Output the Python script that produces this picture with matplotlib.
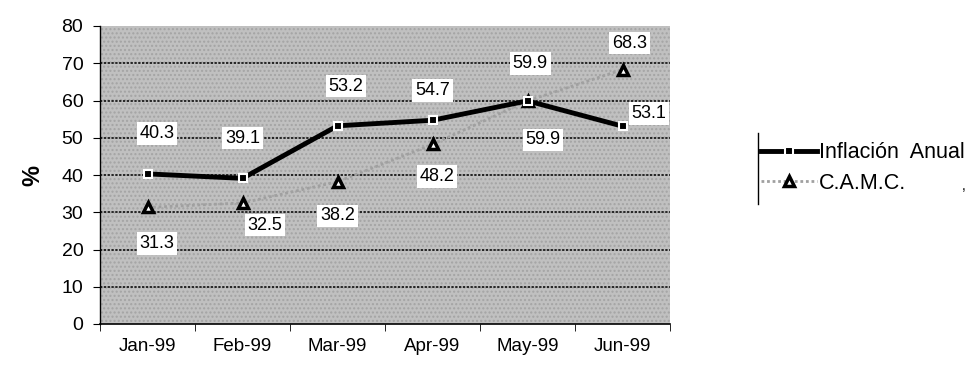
import matplotlib
matplotlib.use("Agg")
import matplotlib.pyplot as plt
from matplotlib.lines import Line2D
import numpy as np

plt.rcParams['font.family'] = ['Liberation Sans', 'DejaVu Sans']

months = ['Jan-99', 'Feb-99', 'Mar-99', 'Apr-99', 'May-99', 'Jun-99']
inflacion = [40.3, 39.1, 53.2, 54.7, 59.9, 53.1]
camc = [31.3, 32.5, 38.2, 48.2, 59.9, 68.3]

# label offsets (points) for the data labels
infl_off = [(7, 29), (0, 29), (6, 28.5), (0, 21.5), (2, 27), (19, 9)]
camc_off = [(7, -26), (16, -16), (0, -24.5), (3, -23), (11, -28), (5, 19)]

fig = plt.figure(figsize=(9.68, 3.65), dpi=100)
ax = fig.add_axes([100 / 968, 41 / 365, 570 / 968, 298 / 365])
ax.set_facecolor('#c0c0c0')
ax.patch.set_hatch('....')
ax.patch.set_edgecolor('#a4a4a4')
ax.patch.set_linewidth(0)

x = np.arange(len(months))
ax.set_xlim(-0.5, len(months) - 0.5)
ax.set_ylim(0, 80)
ax.set_yticks(range(0, 81, 10))
ax.set_xticks(x)
ax.set_xticklabels(months)
ax.set_xticks(np.arange(-0.5, len(months), 1), minor=True)
ax.tick_params(axis='x', which='major', length=0, pad=10, labelsize=13.5)
ax.tick_params(axis='x', which='minor', length=5, direction='out')
ax.tick_params(axis='y', length=5, labelsize=14, pad=7)

for v in range(10, 80, 10):
    ax.axhline(v, color='black', lw=1.1, ls=(0, (1.5, 1)), zorder=1)

for s in ['top', 'right']:
    ax.spines[s].set_visible(False)
ax.spines['left'].set_linewidth(1)
ax.spines['bottom'].set_linewidth(1.2)

l2, = ax.plot(x, camc, color='#a0a0a0', lw=2, ls=(0, (1, 1)),
              marker='^', markersize=7, markerfacecolor='white',
              markeredgecolor='black', markeredgewidth=2.5, zorder=3,
              label='C.A.M.C.')
l1, = ax.plot(x, inflacion, color='black', lw=3.5, marker='s',
              markersize=6, markerfacecolor='black', markeredgecolor='white',
              markeredgewidth=1.5, zorder=4, label='Inflación  Anual')

box = dict(facecolor='white', edgecolor='none', pad=2)
for xi, v, off in zip(x, inflacion, infl_off):
    ax.annotate(f'{v:.1f}', (xi, v), xytext=off, textcoords='offset points',
                ha='center', va='center', fontsize=13, bbox=box, zorder=5)
for xi, v, off in zip(x, camc, camc_off):
    ax.annotate(f'{v:.1f}', (xi, v), xytext=off, textcoords='offset points',
                ha='center', va='center', fontsize=13, bbox=box, zorder=5)

ax.set_ylabel('%', fontsize=17, fontweight='bold', labelpad=12)

fig.legend(handles=[l1, l2], loc='center left',
           bbox_to_anchor=(761 / 968, 1 - 168 / 365), frameon=False,
           fontsize=15.5, handlelength=2.6, handletextpad=0.1,
           borderpad=0, borderaxespad=0, labelspacing=0.45)
fig.add_artist(Line2D([758 / 968, 758 / 968], [1 - 133 / 365, 1 - 204 / 365],
                      color='black', lw=1))
fig.text(964 / 968, 1 - 186 / 365, ',', fontsize=10, ha='center', va='center')

fig.savefig('out.png', dpi=100)
